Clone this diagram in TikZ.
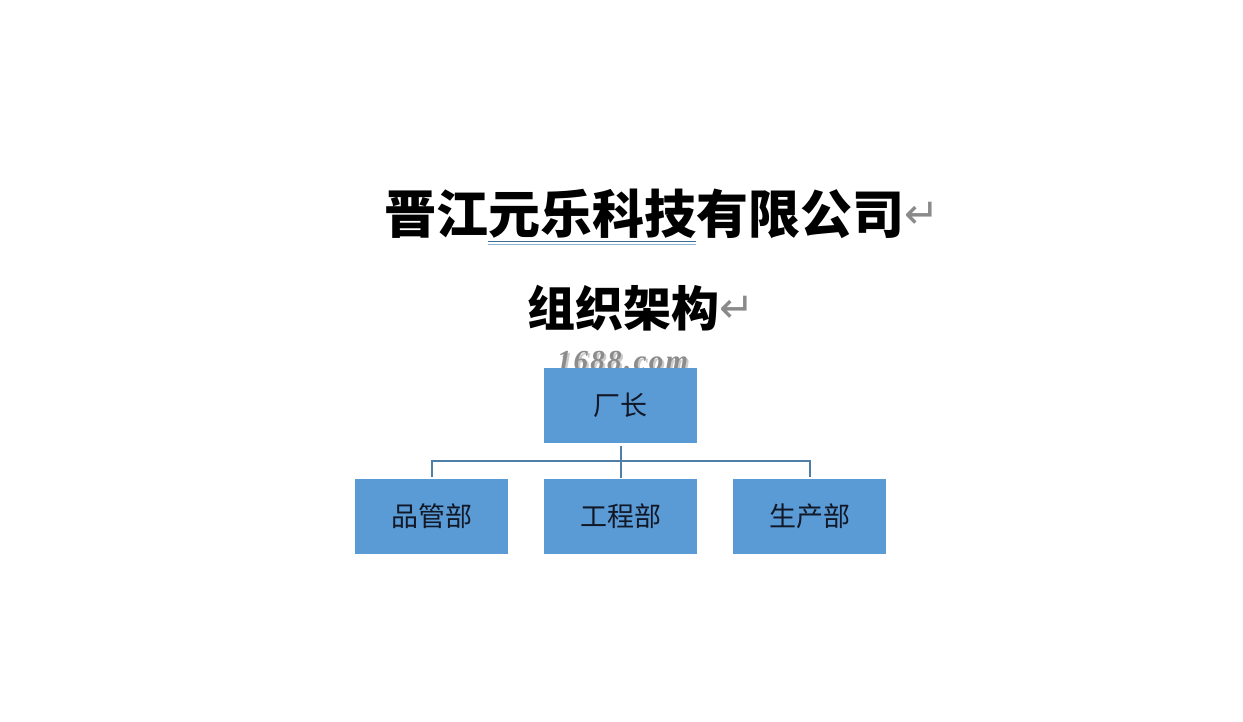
\documentclass[tikz,border=0pt]{standalone}
\usepackage{fontspec}
\newfontfamily\cjk{Noto Sans CJK SC}
\newfontfamily\dejavu{DejaVu Sans}
\newfontfamily\wmfont{Liberation Serif}[LetterSpace=8]
\definecolor{boxblue}{HTML}{5B9BD5}
\definecolor{connblue}{HTML}{4F7EA6}
\definecolor{txtdark}{HTML}{111827}
\definecolor{ulblue}{HTML}{3E6D96}
\definecolor{ulblue2}{HTML}{8FB3D3}
\definecolor{retgray}{HTML}{8A8A8A}
\begin{document}
\begin{tikzpicture}[x=1pt,y=-1pt,
  orgbox/.style={draw=none,fill=boxblue,minimum width=153pt,minimum height=75pt,inner sep=0pt,
    font=\cjk\fontsize{27}{30}\selectfont,text=txtdark},
  conn/.style={draw=connblue,line width=2pt},
  title/.style={anchor=west,inner sep=0pt,text=black},
  ret/.style={anchor=west,inner sep=0pt,text=retgray,font=\dejavu\fontsize{42}{46}\selectfont}]
\useasboundingbox[fill=white] (0,0) rectangle (1243,721);
% titles
\node[title,font=\cjk\bfseries\fontsize{52}{60}\selectfont] (t1) at (384,214) {晋江元乐科技有限公司};
\node[ret] (r1) at ([yshift=-1pt]t1.east) {↵};
\node[title,font=\cjk\bfseries\fontsize{48}{56}\selectfont] (t2) at (527,308) {组织架构};
\node[ret] (r2) at ([yshift=-1pt]t2.east) {↵};
% underline (grammar mark)
\coordinate (u1) at (488,241.5);
\coordinate (u2) at (696,241.5);
\draw[ulblue,line width=1pt] (u1) -- (u2);
\draw[ulblue2,line width=1pt] ([yshift=-2.5pt]u1) -- ([yshift=-2.5pt]u2);
% watermark
\node[inner sep=0pt,text=black!20,font=\wmfont\bfseries\itshape\fontsize{29}{32}\selectfont] (wms) at (624.5,363.5) {1688.com};
\node[inner sep=0pt,text=black!45,font=\wmfont\bfseries\itshape\fontsize{29}{32}\selectfont] (wm) at (622.5,361.5) {1688.com};
% boxes
\node[orgbox] (top) at (620.5,405.5) {厂长};
\node[orgbox] (l) at (431.5,516.5) {品管部};
\node[orgbox] (m) at (620.5,516.5) {工程部};
\node[orgbox] (r) at (809.5,516.5) {生产部};
% connectors
\draw[conn] ([yshift=-3pt]top.south) -- ([yshift=1pt]m.north);
\draw[conn] ([yshift=2pt]l.north) |- ([yshift=-18pt]top.south) -| ([yshift=2pt]r.north);
\end{tikzpicture}
\end{document}
